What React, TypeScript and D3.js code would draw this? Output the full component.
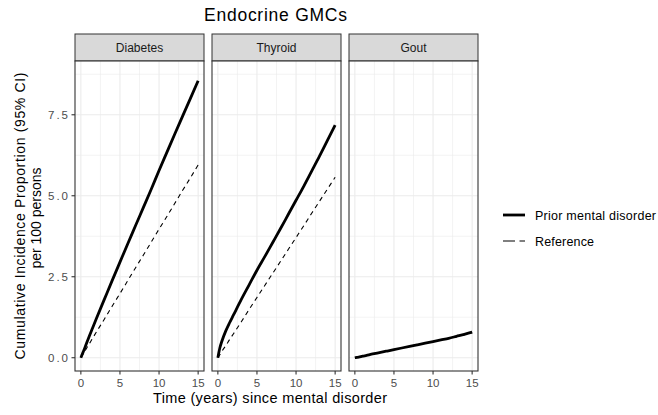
import React from "react";
import * as d3 from "d3";

// values (cumulative incidence per 100 persons)
const times = [0, 0.25, 0.5, 1, 1.5, 2, 3, 4, 5, 6, 7, 8, 9, 10, 11, 12, 13, 14, 15];
const panels = ["Diabetes", "Thyroid", "Gout"];
const diabetesPrior = [0, 0.15, 0.3, 0.62, 0.92, 1.22, 1.8, 2.38, 2.95, 3.52, 4.08, 4.64, 5.2, 5.78, 6.34, 6.9, 7.45, 8.0, 8.55];
const diabetesRef = [0, 0.1, 0.2, 0.4, 0.6, 0.8, 1.19, 1.59, 1.98, 2.38, 2.78, 3.17, 3.57, 3.97, 4.36, 4.76, 5.16, 5.55, 5.95];
const thyroidPrior = [0, 0.3, 0.5, 0.82, 1.08, 1.32, 1.8, 2.25, 2.7, 3.12, 3.55, 3.98, 4.42, 4.86, 5.3, 5.76, 6.22, 6.7, 7.18];
const thyroidRef = [0, 0.09, 0.19, 0.37, 0.56, 0.74, 1.11, 1.49, 1.86, 2.23, 2.6, 2.97, 3.34, 3.71, 4.08, 4.46, 4.83, 5.2, 5.57];
const goutPrior = [0, 0.01, 0.02, 0.05, 0.07, 0.1, 0.15, 0.2, 0.25, 0.3, 0.35, 0.4, 0.45, 0.5, 0.55, 0.6, 0.66, 0.72, 0.79];
const goutRef = [0, 0.01, 0.02, 0.05, 0.07, 0.1, 0.15, 0.2, 0.25, 0.3, 0.35, 0.4, 0.45, 0.5, 0.55, 0.6, 0.65, 0.71, 0.77];
const xTicks = [0, 5, 10, 15];
const yTicks = [0, 2.5, 5, 7.5];
const legendLabels = ["Prior mental disorder", "Reference"];

const prior = [diabetesPrior, thyroidPrior, goutPrior];
const reference = [diabetesRef, thyroidRef, goutRef];

const font = "'Liberation Sans', Arial, sans-serif";

function App() {
  const left = 75;
  const panelW = 129;
  const gap = 8;
  const top = 61;
  const panelH = 310;
  const stripH = 27;

  const x = d3.scaleLinear().domain([-0.75, 15.75]).range([0, panelW]);
  const y = d3.scaleLinear().domain([-0.41, 9.16]).range([panelH, 0]);
  const line = d3
    .line<number>()
    .x((_, i) => x(times[i]))
    .y((d) => y(d))
    .curve(d3.curveMonotoneX);

  const xMinor = [2.5, 7.5, 12.5];
  const yMinor = [1.25, 3.75, 6.25, 8.75];

  return (
    <svg width={658} height={415} style={{ position: "absolute", left: 0, top: 0 }} fontFamily={font}>
      <rect width={658} height={415} fill="#fff" />
      <text x={275.5} y={21} textAnchor="middle" fontSize={17.5} fill="#000" textLength={143} lengthAdjust="spacing">
        Endocrine GMCs
      </text>
      {panels.map((name, p) => {
        const px = left + p * (panelW + gap);
        return (
          <g key={name} transform={`translate(${px},${top})`}>
            <rect x={0} y={-stripH} width={panelW} height={stripH} fill="#d9d9d9" stroke="#333" strokeWidth={1} />
            <text x={panelW / 2} y={-stripH / 2 + 4} textAnchor="middle" fontSize={12} fill="#1a1a1a">
              {name}
            </text>
            <rect width={panelW} height={panelH} fill="#fff" />
            {xMinor.map((t) => (
              <line key={"xm" + t} x1={x(t)} x2={x(t)} y1={0} y2={panelH} stroke="#ebebeb" strokeWidth={0.6} />
            ))}
            {yMinor.map((t) => (
              <line key={"ym" + t} x1={0} x2={panelW} y1={y(t)} y2={y(t)} stroke="#ebebeb" strokeWidth={0.6} />
            ))}
            {xTicks.map((t) => (
              <line key={"x" + t} x1={x(t)} x2={x(t)} y1={0} y2={panelH} stroke="#ebebeb" strokeWidth={1.1} />
            ))}
            {yTicks.map((t) => (
              <line key={"y" + t} x1={0} x2={panelW} y1={y(t)} y2={y(t)} stroke="#ebebeb" strokeWidth={1.1} />
            ))}
            <path d={line(reference[p]) || ""} fill="none" stroke="#000" strokeWidth={1.1} strokeDasharray="4.5,4" />
            <path d={line(prior[p]) || ""} fill="none" stroke="#000" strokeWidth={2.8} strokeLinejoin="round" />
            <rect width={panelW} height={panelH} fill="none" stroke="#333" strokeWidth={1.1} />
            {xTicks.map((t) => (
              <g key={"xt" + t}>
                <line x1={x(t)} x2={x(t)} y1={panelH} y2={panelH + 3.5} stroke="#333" strokeWidth={1.1} />
                <text x={x(t)} y={panelH + 16} textAnchor="middle" fontSize={11.5} fill="#4d4d4d">
                  {t}
                </text>
              </g>
            ))}
            {p === 0 &&
              yTicks.map((t) => (
                <g key={"yt" + t}>
                  <line x1={-3.5} x2={0} y1={y(t)} y2={y(t)} stroke="#333" strokeWidth={1.1} />
                  <text
                    x={-27}
                    y={y(t) + 4}
                    fontSize={11.5}
                    fill="#4d4d4d"
                    textLength={20}
                    lengthAdjust="spacing"
                  >
                    {t.toFixed(1)}
                  </text>
                </g>
              ))}
          </g>
        );
      })}
      <text x={270} y={403} textAnchor="middle" fontSize={14.5} fill="#000" textLength={234} lengthAdjust="spacing">
        Time (years) since mental disorder
      </text>
      <g transform={`translate(0,${top + panelH / 2})`}>
        <text
          transform="rotate(-90)"
          x={0}
          y={25}
          textAnchor="middle"
          fontSize={14}
          fill="#000"
          textLength={287}
          lengthAdjust="spacing"
        >
          Cumulative Incidence Proportion (95% CI)
        </text>
        <text transform="rotate(-90)" x={-2} y={41} textAnchor="middle" fontSize={14} fill="#000">
          per 100 persons
        </text>
      </g>
      {legendLabels.map((lab, i) => {
        const ly = 215 + i * 26;
        return (
          <g key={lab}>
            <line
              x1={503}
              x2={525}
              y1={ly}
              y2={ly}
              stroke="#000"
              strokeWidth={i === 0 ? 2.8 : 1.1}
              strokeDasharray={i === 0 ? undefined : "12,4.5"}
            />
            <text
              x={535}
              y={ly + 4.5}
              fontSize={12.5}
              fill="#000"
              textLength={i === 0 ? 121 : 59}
              lengthAdjust="spacing"
            >
              {lab}
            </text>
          </g>
        );
      })}
    </svg>
  );
}

export default App;
